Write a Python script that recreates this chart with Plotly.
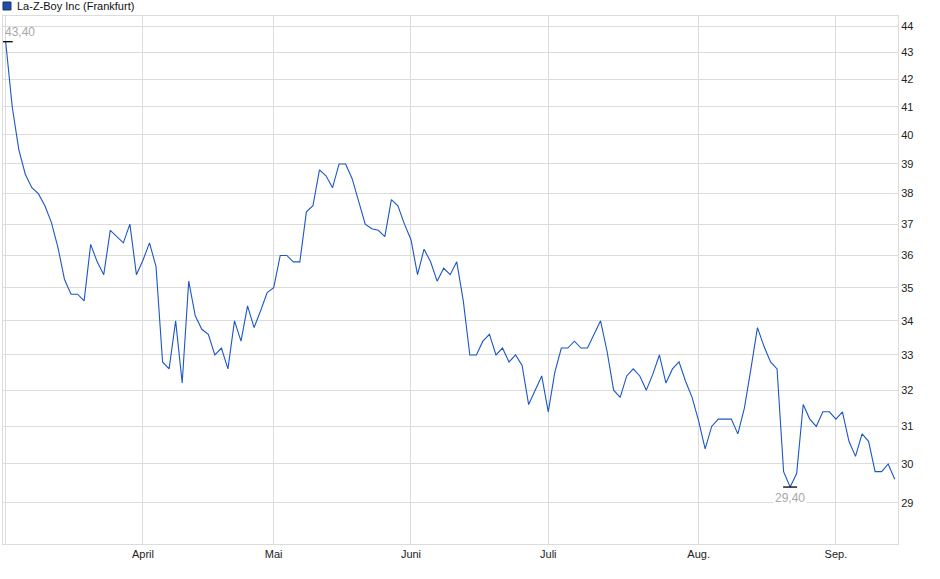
import math
import pandas as pd
import plotly.graph_objects as go

# ---- data -------------------------------------------------------------
series_name = "La-Z-Boy Inc (Frankfurt)"
holidays = ["2025-04-18", "2025-04-21", "2025-05-01"]
trading_days = [d.strftime("%Y-%m-%d") for d in pd.bdate_range("2025-03-03", "2025-09-12")
                if d.strftime("%Y-%m-%d") not in holidays]

prices = [
    43.40, 41.0, 39.5, 38.65, 38.2, 38.0, 37.6, 37.05, 36.25, 35.25,
    34.8, 34.8, 34.6, 36.35, 35.8, 35.4, 36.8, 36.6, 36.4, 37.0,
    35.4, 35.85, 36.4, 35.65, 32.8, 32.6, 34.0, 32.2, 35.2, 34.15,
    33.75, 33.6, 33.0, 33.2, 32.6, 34.0, 33.4, 34.45, 33.8, 34.3,
    34.85, 35.0, 36.0, 36.0, 35.8, 35.8, 37.4, 37.6, 38.8, 38.6,
    38.2, 39.0, 39.0, 38.5, 37.75, 37.0, 36.85, 36.8, 36.6, 37.8,
    37.6, 37.0, 36.5, 35.4, 36.2, 35.8, 35.2, 35.6, 35.4, 35.8,
    34.6, 33.0, 33.0, 33.4, 33.6, 33.0, 33.2, 32.8, 33.0, 32.7,
    31.6, 32.0, 32.4, 31.4, 32.5, 33.2, 33.2, 33.4, 33.2, 33.2,
    33.6, 34.0, 33.1, 32.0, 31.8, 32.4, 32.6, 32.4, 32.0, 32.45,
    33.0, 32.2, 32.6, 32.8, 32.25, 31.8, 31.15, 30.4, 31.0, 31.2,
    31.2, 31.2, 30.8, 31.5, 32.6, 33.8, 33.25, 32.8, 32.6, 29.8,
    29.4, 29.75, 31.6, 31.2, 31.0, 31.4, 31.4, 31.2, 31.4, 30.6,
    30.2, 30.8, 30.6, 29.8, 29.8, 30.0, 29.6,
]

month_ticks = ["2025-03-03", "2025-04-01", "2025-05-02", "2025-06-02",
               "2025-07-01", "2025-08-01", "2025-09-01"]
month_labels = ["", "April", "Mai", "Juni", "Juli", "Aug.", "Sep."]

y_ticks = list(range(29, 45))

# ---- figure -----------------------------------------------------------
FONT = "Liberation Sans, Arial, sans-serif"
LINE_BLUE = "#1b57c6"
GRID = "#dcdcdc"

imax = prices.index(max(prices))
imin = prices.index(min(prices))

fig = go.Figure()
fig.add_trace(go.Scatter(
    x=trading_days, y=prices, mode="lines",
    line=dict(color=LINE_BLUE, width=1.1),
    name=series_name, showlegend=False, hoverinfo="x+y",
))
fig.add_trace(go.Scatter(
    x=[trading_days[imax], trading_days[imin]],
    y=[prices[imax], prices[imin]],
    mode="markers",
    marker=dict(symbol="line-ew", size=10, color="black",
                line=dict(color="black", width=1.3)),
    showlegend=False, hoverinfo="skip",
))

def fmt(v):
    return f"{v:.2f}".replace(".", ",")

fig.add_annotation(x=trading_days[imax], y=math.log10(prices[imax]),
                   text=fmt(prices[imax]), showarrow=False,
                   xanchor="left", yanchor="bottom", yshift=1, xshift=-3,
                   font=dict(family=FONT, size=12, color="#a8a8a8"))
fig.add_annotation(x=trading_days[imin], y=math.log10(prices[imin]),
                   text=fmt(prices[imin]), showarrow=False,
                   xanchor="center", yanchor="top", yshift=-2,
                   bgcolor="white",
                   font=dict(family=FONT, size=12, color="#a8a8a8"))

# legend-like header
fig.add_shape(type="rect", xref="paper", yref="paper",
              x0=0.0, x1=0.0089, y0=1.0114, y1=1.0265,
              fillcolor="#1e4fae", line=dict(color="#1a2f5c", width=1))
fig.add_annotation(xref="paper", yref="paper", x=0.0134, y=1.0195,
                   text=series_name, showarrow=False,
                   xanchor="left", yanchor="middle",
                   font=dict(family=FONT, size=11, color="#111111"))

fig.update_layout(
    width=940, height=579,
    margin=dict(l=3, r=42, t=16, b=35),
    paper_bgcolor="white", plot_bgcolor="white",
    font=dict(family=FONT, size=11, color="#222222"),
    showlegend=False,
)
fig.update_xaxes(
    type="category",
    range=[-0.41, 136.5],
    tickmode="array", tickvals=month_ticks, ticktext=month_labels,
    showgrid=True, gridcolor=GRID, gridwidth=1,
    showline=True, linecolor=GRID, linewidth=1, mirror=True,
    ticks="", tickfont=dict(family=FONT, size=11, color="#222222"),
    zeroline=False,
)
fig.update_yaxes(
    type="log", side="right",
    range=[1.44672, 1.64725],
    tickmode="array", tickvals=y_ticks, ticktext=[str(t) for t in y_ticks],
    showgrid=True, gridcolor=GRID, gridwidth=1,
    showline=True, linecolor=GRID, linewidth=1, mirror=True,
    ticks="", tickfont=dict(family=FONT, size=11, color="#222222"),
    zeroline=False,
)

fig.write_html("out.html",
               config={"displayModeBar": False},
               post_script="document.body.style.margin='0';document.body.style.padding='0';")
